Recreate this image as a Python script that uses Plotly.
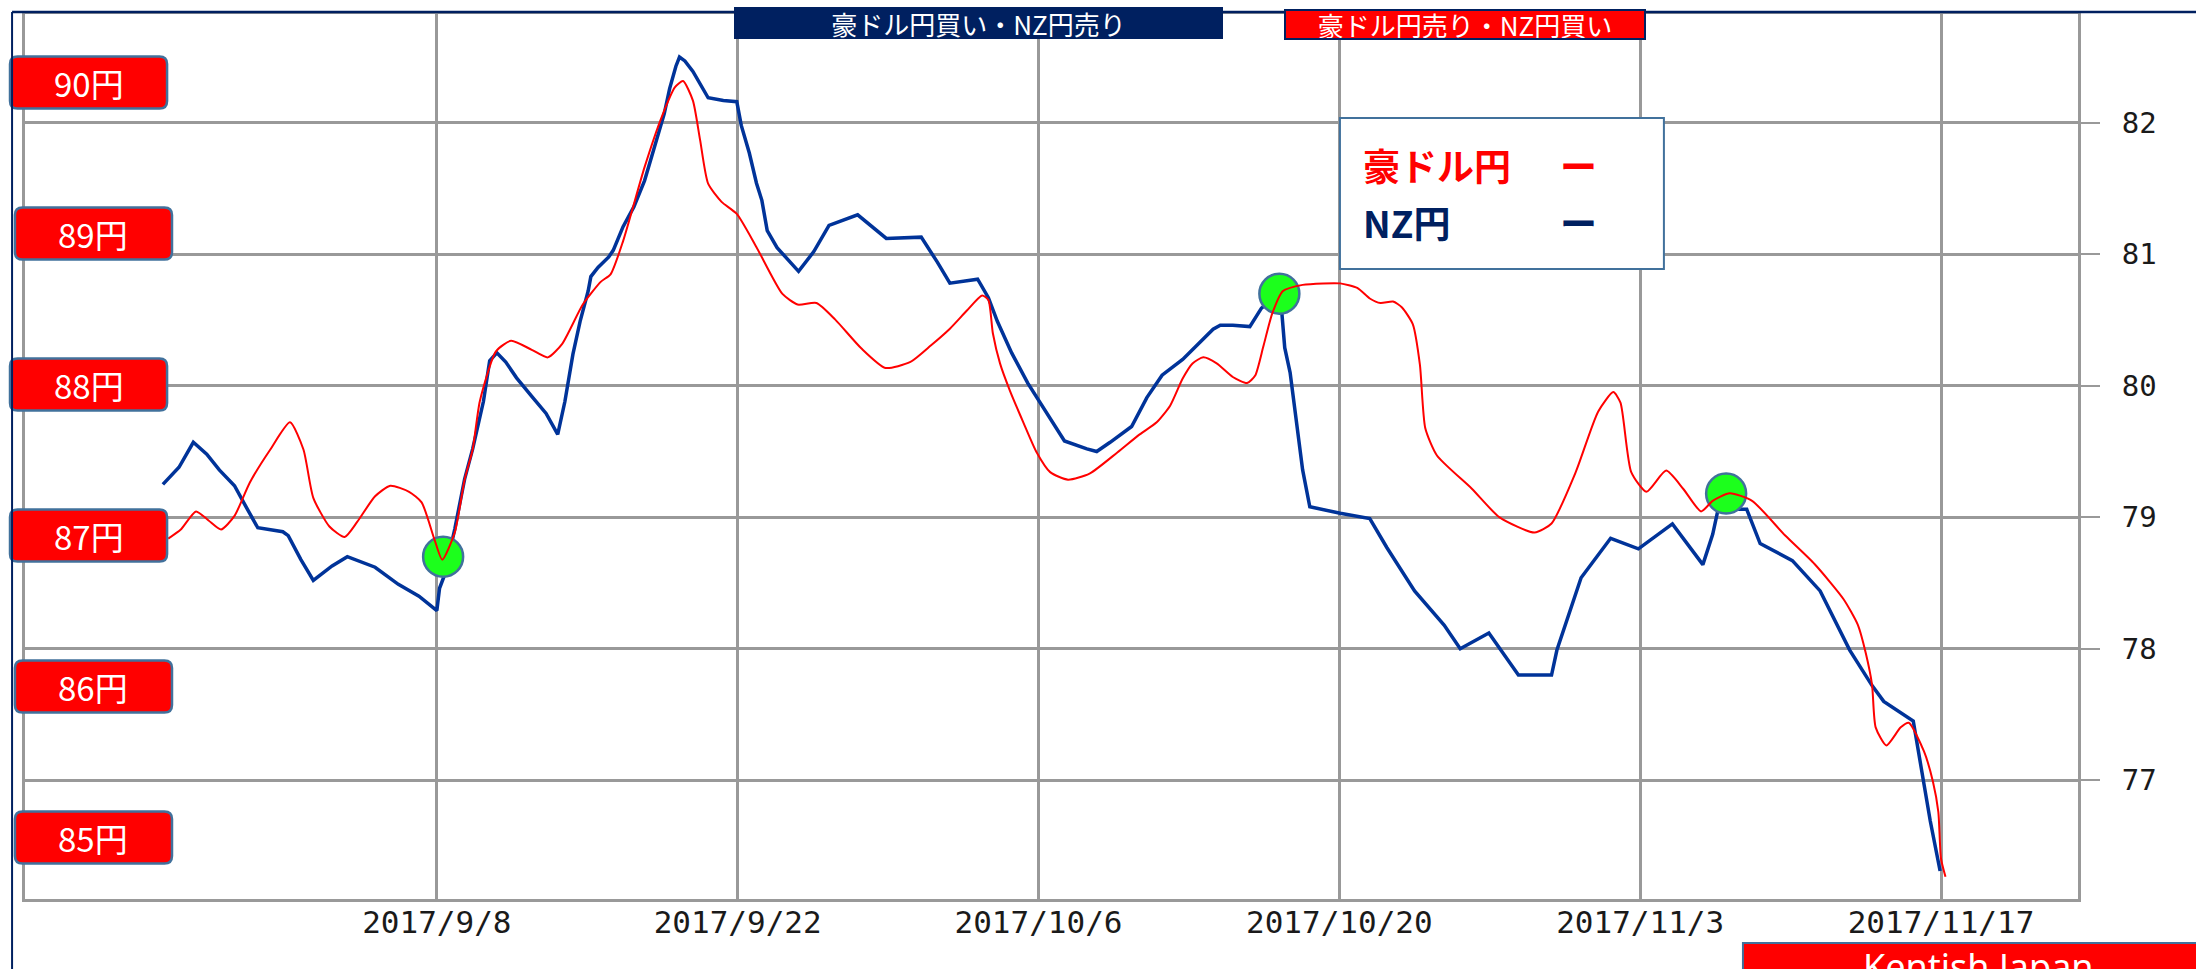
import plotly.graph_objects as go

# ---------------- data ----------------
nzd_dates = ["08-26 06","08-27 00","08-27 16","08-28 07","08-28 21","08-29 14","08-30 02","08-30 16","08-31 20","09-01 02",
             "09-01 16","09-02 06","09-03 03","09-03 20","09-05 03","09-06 05","09-07 04","09-08 00","09-08 03","09-08 08",
             "09-08 20","09-09 07","09-09 16","09-10 04","09-10 11","09-10 19","09-11 05","09-11 17","09-12 10","09-13 02",
             "09-13 15","09-13 23","09-14 08","09-14 16","09-15 01","09-15 04","09-15 12","09-16 00","09-16 05","09-16 16",
             "09-17 04","09-17 16","09-18 02","09-18 14","09-18 20","09-19 03","09-19 07","09-19 13","09-19 22","09-20 06",
             "09-20 15","09-21 08","09-21 23","09-22 04","09-22 13","09-22 21","09-23 03","09-23 09","09-23 20","09-24 20",
             "09-25 13","09-26 06","09-27 14","09-28 22","09-30 13","10-01 07","10-01 21","10-03 04","10-03 16","10-04 02",
             "10-04 18","10-05 12","10-06 09","10-07 05","10-08 06","10-08 17","10-09 08","10-10 08","10-11 01","10-11 18",
             "10-12 17","10-13 16","10-14 03","10-14 11","10-15 01","10-15 20","10-16 09","10-17 06","10-17 11","10-17 17",
             "10-18 00","10-18 07","10-18 15","10-20 01","10-21 10","10-22 05","10-23 12","10-24 21","10-25 15","10-26 23",
             "10-28 08","10-29 21","10-30 03","10-31 06","11-01 15","11-02 22","11-04 12","11-05 22","11-06 09","11-06 15",
             "11-07 23","11-08 14","11-10 02","11-11 09","11-12 18","11-13 19","11-14 08","11-15 17","11-16 02","11-16 12",
             "11-16 23"]
nzd_values = [79.25,79.38,79.57,79.48,79.36,79.24,79.09,78.92,78.89,78.86,
              78.68,78.52,78.63,78.70,78.62,78.49,78.40,78.29,78.46,78.55,
              78.91,79.29,79.52,79.88,80.19,80.25,80.18,80.06,79.92,79.79,
              79.63,79.88,80.24,80.49,80.72,80.83,80.90,80.98,81.03,81.21,
              81.36,81.56,81.79,82.07,82.26,82.43,82.50,82.47,82.39,82.30,
              82.19,82.17,82.16,81.98,81.77,81.54,81.41,81.18,81.05,80.87,
              81.02,81.22,81.30,81.12,81.13,80.94,80.78,80.81,80.67,80.49,
              80.25,80.02,79.79,79.58,79.52,79.50,79.57,79.69,79.91,80.08,
              80.20,80.35,80.43,80.46,80.46,80.45,80.59,80.70,80.29,80.10,
              79.74,79.36,79.08,79.03,78.99,78.77,78.44,78.18,78.00,78.12,
              77.80,77.80,77.99,78.54,78.84,78.76,78.95,78.64,78.87,79.06,
              79.06,78.80,78.67,78.44,77.99,77.72,77.60,77.45,77.09,76.69,
              76.31]

aud_dates = ["08-26 12","08-27 02","08-27 19","08-28 09","08-28 23","08-29 14","08-30 07","08-31 06","09-01 04","09-01 19",
             "09-02 06","09-03 00","09-03 17","09-04 07","09-05 03","09-05 20","09-06 17","09-07 07","09-07 21","09-08 06",
             "09-08 20","09-09 07","09-09 16","09-10 00","09-10 18","09-11 11","09-12 10","09-13 04","09-13 20","09-14 19",
             "09-15 15","09-16 02","09-16 16","09-17 16","09-18 11","09-19 02","09-19 11","09-19 22","09-20 06","09-20 15",
             "09-21 06","09-21 23","09-22 21","09-24 02","09-24 19","09-25 16","09-26 13","09-27 18","09-28 21","09-30 01",
             "10-01 00","10-01 21","10-02 16","10-03 09","10-03 16","10-03 21","10-04 05","10-04 16","10-05 07","10-05 22",
             "10-06 13","10-07 09","10-08 09","10-09 16","10-10 17","10-11 12","10-12 03","10-12 17","10-13 04","10-13 16",
             "10-14 07","10-15 01","10-15 17","10-16 02","10-16 11","10-16 21","10-17 09","10-18 07","10-19 06","10-20 01",
             "10-20 20","10-21 10","10-21 22","10-22 12","10-22 22","10-23 10","10-23 18","10-24 00","10-24 13","10-26 04",
             "10-27 11","10-29 02","10-29 21","10-31 00","11-01 01","11-01 18","11-02 02","11-02 14","11-03 07","11-04 05",
             "11-05 00","11-05 20","11-06 09","11-07 04","11-08 05","11-09 18","11-11 03","11-12 11","11-13 03","11-13 12",
             "11-13 19","11-13 23","11-14 11","11-15 03","11-15 12","11-16 05","11-16 15","11-16 21","11-17 00","11-17 05"]
aud_values = [86.98,87.04,87.16,87.10,87.04,87.13,87.35,87.57,87.75,87.57,
              87.25,87.06,86.99,87.09,87.26,87.33,87.29,87.22,86.98,86.84,
              87.02,87.37,87.57,87.89,88.22,88.29,88.23,88.18,88.27,88.53,
              88.68,88.73,88.95,89.44,89.77,89.97,90.01,89.88,89.62,89.33,
              89.21,89.13,88.91,88.60,88.53,88.54,88.43,88.24,88.11,88.15,
              88.26,88.37,88.49,88.59,88.56,88.34,88.14,87.96,87.75,87.55,
              87.42,87.37,87.41,87.55,87.67,87.75,87.86,88.04,88.14,88.18,
              88.14,88.05,88.01,88.06,88.25,88.47,88.62,88.66,88.67,88.67,
              88.64,88.57,88.54,88.55,88.51,88.40,88.13,87.71,87.53,87.31,
              87.12,87.02,87.08,87.42,87.82,87.95,87.88,87.42,87.29,87.43,
              87.31,87.16,87.23,87.28,87.23,87.00,86.81,86.58,86.41,86.22,
              86.01,85.73,85.61,85.73,85.76,85.57,85.37,85.17,84.86,84.74]

signal_dates = ["2017-09-08 07:00", "2017-10-17 05:00", "2017-11-07 00:00"]
signal_values = [78.70, 80.70, 79.18]

tick_dates = ["2017-09-08", "2017-09-22", "2017-10-06", "2017-10-20", "2017-11-03", "2017-11-17"]
tick_labels = ["2017/9/8", "2017/9/22", "2017/10/6", "2017/10/20", "2017/11/3", "2017/11/17"]
nzd_ticks = [77, 78, 79, 80, 81, 82]
aud_levels = [90, 89, 88, 87, 86, 85]

header_buy = "豪ドル円買い・NZ円売り"
header_sell = "豪ドル円売り・NZ円買い"
legend_names = ["豪ドル円", "NZ円"]
brand = "Kentish Japan"

# ---------------- styles ----------------
RED = "#FF0000"
NAVY = "#002060"
BLUE = "#003399"
GRID = "#999999"
STEEL = "#41719C"
CJK = "Noto Sans CJK JP"
AUD_RANGE = [84.593, 90.454]
NZD_RANGE = [76.097, 82.827]
LABEL_LEFT = [-0.0073, -0.0049, -0.0073, -0.0073, -0.0049, -0.0049]  # paper x of each box's left edge
BOX_W, BOX_H = 0.0765, 0.0588   # paper units (157 x 52 px)
RX, RY = 0.0037, 0.0085         # corner radius


def full_dates(lst):
    return ["2017-" + s + ":00" for s in lst]


def rounded_rect(x0, y0, x1, y1, rx, ry):
    return (f"M {x0+rx},{y0} L {x1-rx},{y0} Q {x1},{y0} {x1},{y0+ry} "
            f"L {x1},{y1-ry} Q {x1},{y1} {x1-rx},{y1} L {x0+rx},{y1} Q {x0},{y1} {x0},{y1-ry} "
            f"L {x0},{y0+ry} Q {x0},{y0} {x0+rx},{y0} Z")


fig = go.Figure()
fig.add_trace(go.Scatter(x=full_dates(nzd_dates), y=nzd_values, mode="lines",
                         line=dict(color=BLUE, width=3.5), name="NZ円", yaxis="y"))
fig.add_trace(go.Scatter(x=full_dates(aud_dates), y=aud_values, mode="lines",
                         line=dict(color=RED, width=2, shape="spline", smoothing=0.6),
                         name="豪ドル円", yaxis="y2"))
fig.add_trace(go.Scatter(x=signal_dates, y=signal_values, mode="markers",
                         marker=dict(size=40, color="#1CFF1C", line=dict(color=STEEL, width=2.5)),
                         yaxis="y", name="signal"))

annotations = []
shapes = []
# left yen level labels (red rounded boxes)
for v, xl in zip(aud_levels, LABEL_LEFT):
    yc = (v - AUD_RANGE[0]) / (AUD_RANGE[1] - AUD_RANGE[0])
    shapes.append(dict(type="path", xref="paper", yref="paper",
                       path=rounded_rect(xl, yc - BOX_H / 2, xl + BOX_W, yc + BOX_H / 2, RX, RY),
                       fillcolor=RED, line=dict(color=STEEL, width=2.5), layer="above"))
    annotations.append(dict(xref="paper", yref="y2", x=xl + BOX_W / 2, y=v, text=f"{v}円",
                            xanchor="center", yanchor="middle", showarrow=False,
                            font=dict(family=CJK, size=33, color="white")))
# header boxes
annotations.append(dict(xref="paper", yref="paper", x=0.4644, y=0.9898, text=header_buy,
                        xanchor="center", yanchor="middle", showarrow=False,
                        font=dict(family=CJK, size=26, color="white"),
                        bgcolor=NAVY, bordercolor=NAVY, borderwidth=1, borderpad=0,
                        width=487, height=30))
annotations.append(dict(xref="paper", yref="paper", x=0.7014, y=0.9881, text=header_sell,
                        xanchor="center", yanchor="middle", showarrow=False,
                        font=dict(family=CJK, size=26, color="white"),
                        bgcolor=RED, bordercolor=NAVY, borderwidth=2, borderpad=0,
                        width=358, height=27))
# legend texts
annotations.append(dict(xref="paper", yref="paper", x=0.6508, y=0.8294, text="<b>" + legend_names[0] + "</b>",
                        xanchor="left", yanchor="middle", showarrow=False,
                        font=dict(family=CJK, size=37, color=RED)))
annotations.append(dict(xref="paper", yref="paper", x=0.6508, y=0.7650, text="<b>" + legend_names[1] + "</b>",
                        xanchor="left", yanchor="middle", showarrow=False,
                        font=dict(family=CJK, size=37, color=NAVY)))
annotations.append(dict(xref="paper", yref="paper", x=0.7569, y=0.8294, text="<b>ー</b>",
                        xanchor="center", yanchor="middle", showarrow=False,
                        font=dict(family=CJK, size=37, color=RED)))
annotations.append(dict(xref="paper", yref="paper", x=0.7569, y=0.7650, text="<b>ー</b>",
                        xanchor="center", yanchor="middle", showarrow=False,
                        font=dict(family=CJK, size=37, color=NAVY)))
# brand
annotations.append(dict(xref="paper", yref="paper", x=0.9513, y=-0.046, xanchor="center", yanchor="top",
                        text=brand, showarrow=False, font=dict(family="Noto Sans", size=36, color="white")))

shapes += [
    # outer navy frame (top and left)
    dict(type="line", xref="paper", yref="paper", x0=-0.0063, x1=1.06, y0=1.0023, y1=1.0023,
         line=dict(color=NAVY, width=2.5), layer="above"),
    dict(type="line", xref="paper", yref="paper", x0=-0.0063, x1=-0.0063, y0=1.0023, y1=-0.09,
         line=dict(color=NAVY, width=2), layer="above"),
    # legend box
    dict(type="rect", xref="paper", yref="paper", x0=0.6405, x1=0.7983, y0=0.7119, y1=0.8825,
         line=dict(color=STEEL, width=2), fillcolor="white", layer="above"),
    # brand box
    dict(type="rect", xref="paper", yref="paper", x0=0.8368, x1=1.08, y0=-0.0497, y1=-0.13,
         line=dict(color=STEEL, width=2), fillcolor=RED, layer="above"),
]

fig.update_layout(
    width=2196, height=969,
    margin=dict(l=25, r=118, t=14, b=70),
    paper_bgcolor="white", plot_bgcolor="white",
    showlegend=False,
    xaxis=dict(range=["2017-08-19 20:00", "2017-11-23 09:00"], tickvals=tick_dates, ticktext=tick_labels,
               showgrid=True, gridcolor=GRID, gridwidth=2.5, ticks="", showline=True, mirror=True,
               linecolor=GRID, linewidth=3, zeroline=False, ticklabelstandoff=-6,
               tickfont=dict(family="DejaVu Sans Mono", size=31, color="#1a1a1a")),
    yaxis=dict(range=NZD_RANGE, side="right", tickvals=nzd_ticks, showgrid=True, gridcolor=GRID,
               gridwidth=2.5, ticks="outside", ticklen=19, tickwidth=2, tickcolor=GRID,
               showline=True, mirror=True, linecolor=GRID, linewidth=3, zeroline=False,
               ticklabelstandoff=16,
               tickfont=dict(family="DejaVu Sans Mono", size=29, color="#1a1a1a")),
    yaxis2=dict(range=AUD_RANGE, overlaying="y", side="left", showgrid=False,
                showticklabels=False, ticks="", showline=False, zeroline=False),
    annotations=annotations,
    shapes=shapes,
)

fig.write_html("out.html", config={"displayModeBar": False},
               post_script="document.body.style.margin='0';document.body.style.overflow='hidden';")
